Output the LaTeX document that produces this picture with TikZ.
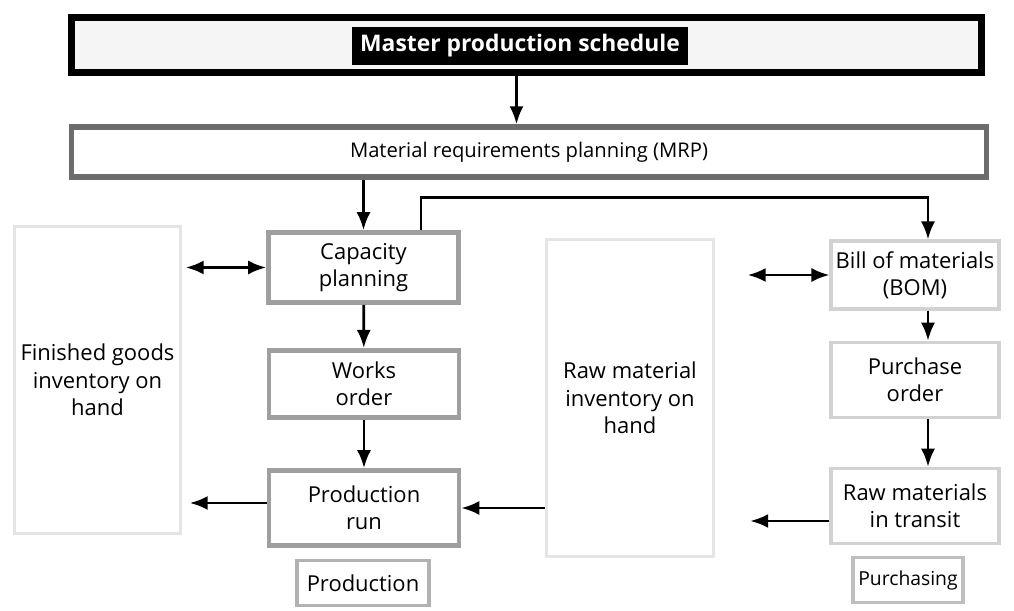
\documentclass[tikz,border=0pt]{standalone}
\usepackage{fontspec}
\setmainfont{Open Sans}
\usetikzlibrary{arrows.meta}

\tikzset{
	box/.style = {draw=gray!75, line width=2.6pt, fill=white, align=center, inner sep=2pt,
		font=\fontsize{12.5}{15.5}\selectfont},
	store/.style = {draw=gray!20, line width=1.6pt, fill=white, align=center,
		font=\fontsize{12.5}{15.5}\selectfont},
	tag/.style = {box, draw=gray!60, line width=2.2pt}
}

\begin{document}
\begin{tikzpicture}[>={Latex[length=3.6mm,width=2.8mm]}, line width=1.6pt]
	\useasboundingbox (0,0) rectangle (20.28,-12.22);
	% top row
	\node [draw=black, line width=4.5pt, fill=gray!8, minimum width=18.2cm, minimum height=1.1cm] (mps) at (10.53,-0.9) {};
	\node [fill=black, text=white, font=\fontsize{13}{15}\selectfont\bfseries, inner sep=4.5pt] (title) at (10.4,-0.92) {Master production schedule};
	\node [box, draw=gray!85!black, line width=3pt, minimum width=18.3cm, minimum height=1cm, font=\fontsize{11.5}{14}\selectfont] (mrp) at (10.58,-3.04) {Material requirements planning (MRP)};
	% production side
	\node [store, minimum width=3.25cm, minimum height=6.15cm] (fg) at (1.95,-7.6) {Finished goods\\inventory on\\hand};
	\node [box, minimum width=3.8cm, minimum height=1.4cm] (cap) at (7.27,-5.35) {Capacity\\planning};
	\node [box, minimum width=3.8cm, minimum height=1.35cm] (works) at (7.28,-7.68) {Works\\order};
	\node [box, minimum width=3.8cm, minimum height=1.5cm] (run) at (7.28,-10.16) {Production\\run};
	\node [tag, minimum width=2.65cm, minimum height=0.9cm] (prod) at (7.26,-11.66) {Production};
	% purchasing side
	\node [store, minimum width=3.35cm, minimum height=6.35cm] (rmi) at (12.6,-7.96) {Raw material\\inventory on\\hand};
	\node [box, draw=gray!35, line width=2pt, minimum width=3.35cm, minimum height=1.35cm] (bom) at (18.3,-5.5) {Bill of materials\\(BOM)};
	\node [box, draw=gray!35, line width=2pt, minimum width=3.35cm, minimum height=1.5cm] (po) at (18.3,-7.6) {Purchase\\order};
	\node [box, draw=gray!35, line width=2pt, minimum width=3.35cm, minimum height=1.5cm] (transit) at (18.3,-10.12) {Raw materials\\in transit};
	\node [tag, draw=gray!50, inner sep=3pt, minimum width=1.9cm, minimum height=0.9cm, font=\fontsize{11}{13}\selectfont] (purch) at (18.16,-11.6) {Purchasing};
	% connectors
	\draw [->] ([xshift=-0.2cm]mps.south) -- ([xshift=-0.2cm]mps.south |- mrp.north);
	\draw [->] (mrp.south -| cap.north) -- (cap.north);
	\draw [->] ([xshift=1.15cm]cap.north) -- ++(0,0.66) -| ([xshift=0.26cm]bom.north);
	\draw [<->] (cap.west) -- ([xshift=0.08cm]cap.west -| fg.east);
	\draw [->] (cap) -- (works);
	\draw [->] (works) -- (run);
	\draw [->] ([yshift=0.1cm]run.west) -- ([xshift=0.16cm,yshift=0.1cm]run.west -| fg.east);
	\draw [->] (rmi.west |- run) -- (run.east);
	\draw [<->] ([xshift=0.65cm]rmi.east |- bom.west) -- (bom.west);
	\draw [->] ([xshift=0.26cm]bom.south) -- ([xshift=0.26cm]po.north);
	\draw [->] ([xshift=0.26cm]po.south) -- ([xshift=0.26cm]transit.north);
	\draw [->] ([yshift=-0.3cm]transit.west) -- ([xshift=0.7cm,yshift=-0.3cm]transit.west -| rmi.east);
\end{tikzpicture}
\end{document}
